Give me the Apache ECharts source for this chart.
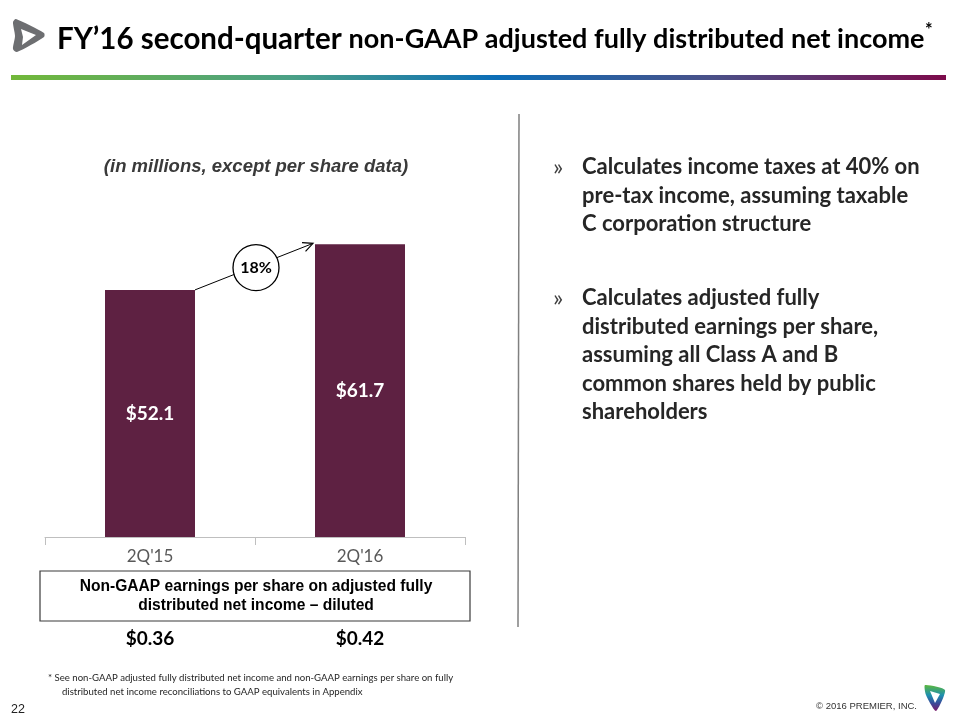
<!DOCTYPE html>
<html>
<head>
<meta charset="utf-8">
<script src="https://cdn.jsdelivr.net/npm/echarts@6/dist/echarts.min.js"></script>
<style>html,body{margin:0;padding:0;background:#fff;}#c{width:960px;height:720px;}</style>
</head>
<body>
<div id="c"></div>
<script>
// ---- data ----
const categories = ["2Q'15", "2Q'16"];
const netIncome = [52.1, 61.7];
const valueLabels = ["$52.1", "$61.7"];
const epsLabels = ["$0.36", "$0.42"];
const growthLabel = "18%";
const bullet1 = ["Calculates income taxes at 40% on", "pre-tax income, assuming taxable", "C corporation structure"];
const bullet2 = ["Calculates adjusted fully", "distributed earnings per share,", "assuming all Class A and B", "common shares held by public", "shareholders"];

const FONT = "Lato, 'Noto Sans', sans-serif";
const ARIAL = "'Liberation Sans', Arial, sans-serif";
const BAR = '#5e2142';
const BAR_W = 90;

const chart = echarts.init(document.getElementById('c'), null, {renderer: 'canvas'});

const option = {
  backgroundColor: '#ffffff',
  animation: false,
  grid: {left: 45, right: 495, top: 205, bottom: 183, containLabel: false},
  xAxis: {
    type: 'category', data: categories,
    axisLine: {lineStyle: {color: '#bfbfbf', width: 1}},
    axisTick: {show: true, length: 8, lineStyle: {color: '#bfbfbf'}},
    axisLabel: {color: '#595959', fontSize: 17, fontFamily: FONT, margin: 11}
  },
  yAxis: {
    type: 'value', min: 0, max: 70, show: false,
    splitLine: {show: false}
  },
  series: [{
    type: 'bar', data: netIncome, barWidth: BAR_W,
    itemStyle: {color: BAR},
    label: {
      show: true, position: 'inside', color: '#ffffff', fontSize: 19, fontWeight: 'bold', fontFamily: FONT,
      formatter: p => valueLabels[p.dataIndex]
    }
  }]
};
chart.setOption(option);

// ---- annotations computed from the axes ----
const p0 = chart.convertToPixel({seriesIndex: 0}, [0, netIncome[0]]);
const p1 = chart.convertToPixel({seriesIndex: 0}, [1, netIncome[1]]);
const sx = p0[0] + BAR_W / 2, sy = p0[1];
const ex = p1[0] - BAR_W / 2 - 2, ey = p1[1] - 1;
const ang = Math.atan2(ey - sy, ex - sx);
const ah = 11, aw = 0.45;
const mx = (sx + ex) / 2, my = (sy + ey) / 2;

const g = [];
// top-left logo (approximation)
g.push({type: 'polygon', shape: {points: [[13,22],[16,19],[44,33],[44,37],[17,52],[13,49],[15,36]], smooth: 0.25}, style: {fill: '#6d6e71'}});
g.push({type: 'polygon', shape: {points: [[21,29],[36,35],[22,45],[23,37]]}, style: {fill: '#ffffff'}});
// title
g.push({type: 'text', style: {x: 57, y: 39, textVerticalAlign: 'middle', text: '{a|FY’16 second-quarter}{s| }{b|non-GAAP adjusted fully distributed net income}',
  rich: {a: {fontSize: 29.5, fontWeight: 'bold', fontFamily: FONT, color: '#000'}, s: {fontSize: 27, fontFamily: FONT, color: '#000'}, b: {fontSize: 27, fontWeight: 'bold', fontFamily: FONT, color: '#000'}}}});
g.push({type: 'text', style: {x: 925, y: 30, text: '*', fontSize: 18, fontWeight: 'bold', fontFamily: FONT, fill: '#000', textVerticalAlign: 'middle'}});
// gradient rule
g.push({type: 'rect', shape: {x: 11, y: 75, width: 935, height: 5}, style: {fill: {type: 'linear', x: 0, y: 0, x2: 1, y2: 0, colorStops: [
  {offset: 0, color: '#72b839'}, {offset: 0.3, color: '#4aa086'}, {offset: 0.52, color: '#0b6db7'},
  {offset: 0.75, color: '#4a5088'}, {offset: 1, color: '#7d0b4b'}]}}});
// subtitle
g.push({type: 'text', style: {x: 256, y: 167, text: '(in millions, except per share data)', textAlign: 'center', textVerticalAlign: 'middle',
  fontSize: 18.5, fontWeight: 'bold', fontStyle: 'italic', fontFamily: ARIAL, fill: '#3a3a3a'}});
// divider
g.push({type: 'line', shape: {x1: 519, y1: 114, x2: 518, y2: 627}, style: {stroke: '#808080', lineWidth: 1.5}});
// arrow
g.push({type: 'line', shape: {x1: sx, y1: sy, x2: ex, y2: ey}, style: {stroke: '#000', lineWidth: 1}});
g.push({type: 'polyline', shape: {points: [
  [ex - ah * Math.cos(ang - aw), ey - ah * Math.sin(ang - aw)], [ex, ey],
  [ex - ah * Math.cos(ang + aw), ey - ah * Math.sin(ang + aw)]]}, style: {stroke: '#000', lineWidth: 1.2, fill: null}});
g.push({type: 'circle', shape: {cx: mx + 2, cy: my + 1, r: 23}, style: {fill: '#fff', stroke: '#000', lineWidth: 1.3}});
g.push({type: 'text', style: {x: mx + 2, y: my + 1, text: growthLabel, textAlign: 'center', textVerticalAlign: 'middle', fontSize: 16, fontWeight: 'bold', fontFamily: FONT, fill: '#000'}});
// EPS box
g.push({type: 'rect', shape: {x: 40, y: 571, width: 430, height: 50}, style: {fill: '#fff', stroke: '#3a3a3a', lineWidth: 1.2}});
g.push({type: 'text', style: {x: 256, y: 587, text: 'Non-GAAP earnings per share on adjusted fully', textAlign: 'center', textVerticalAlign: 'middle', fontSize: 15.6, fontWeight: 'bold', fontFamily: ARIAL, fill: '#000'}});
g.push({type: 'text', style: {x: 256, y: 606, text: 'distributed net income – diluted', textAlign: 'center', textVerticalAlign: 'middle', fontSize: 15.6, fontWeight: 'bold', fontFamily: ARIAL, fill: '#000'}});
epsLabels.forEach((t, i) => {
  const px = chart.convertToPixel({xAxisIndex: 0}, categories[i]);
  g.push({type: 'text', style: {x: px, y: 639, text: t, textAlign: 'center', textVerticalAlign: 'middle', fontSize: 19, fontWeight: 'bold', fontFamily: FONT, fill: '#000'}});
});
// right bullets
function bullets(lines, y0) {
  g.push({type: 'text', style: {x: 553, y: y0, text: '»', textVerticalAlign: 'middle', fontSize: 24, fontFamily: FONT, fill: '#404040'}});
  lines.forEach((t, i) => g.push({type: 'text', style: {x: 582, y: y0 + i * 28.5, text: t, textVerticalAlign: 'middle', fontSize: 22, fontWeight: 'bold', fontFamily: FONT, fill: '#262626'}}));
}
bullets(bullet1, 167);
bullets(bullet2, 298);
// footnote
g.push({type: 'text', style: {x: 48, y: 678, text: '* See non-GAAP adjusted fully distributed net income and non-GAAP earnings per share on fully', textVerticalAlign: 'middle', fontSize: 9.6, fontFamily: FONT, fill: '#262626'}});
g.push({type: 'text', style: {x: 62, y: 692, text: 'distributed net income reconciliations to GAAP equivalents in Appendix', textVerticalAlign: 'middle', fontSize: 9.6, fontFamily: FONT, fill: '#262626'}});
g.push({type: 'text', style: {x: 11, y: 710, text: '22', textVerticalAlign: 'middle', fontSize: 12.5, fontFamily: ARIAL, fill: '#222'}});
g.push({type: 'text', style: {x: 917, y: 706, text: '© 2016 PREMIER, INC.', textAlign: 'right', textVerticalAlign: 'middle', fontSize: 9.5, fontFamily: ARIAL, fill: '#333'}});
// bottom-right logo (approximation)
g.push({type: 'polygon', shape: {points: [[925,685],[945,690],[936,711],[926,695]], smooth: 0.2},
  style: {fill: {type: 'linear', x: 0, y: 0, x2: 0, y2: 1, colorStops: [{offset: 0, color: '#5cb83d'}, {offset: 0.4, color: '#1d8fb0'}, {offset: 0.7, color: '#3a4a9a'}, {offset: 1, color: '#7a1a6a'}]}}});
g.push({type: 'polygon', shape: {points: [[930,691],[940,694],[935,703]]}, style: {fill: '#ffffff'}});

chart.setOption({graphic: {elements: g}});
</script>
</body>
</html>
